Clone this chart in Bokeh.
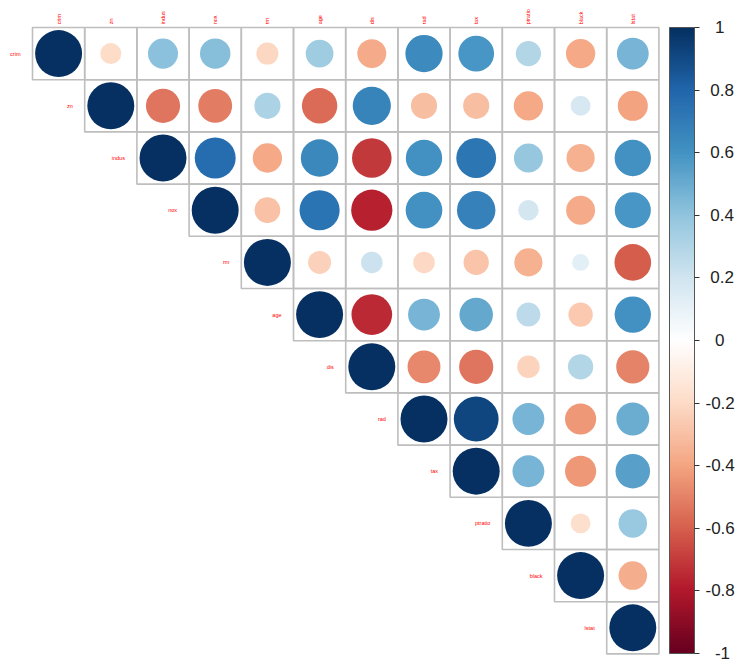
import numpy as np
from bokeh.plotting import figure
from bokeh.models import (ColumnDataSource, Range1d, LinearColorMapper, ColorBar,
                          FixedTicker, CustomJSTickFormatter)
from bokeh.transform import transform
from bokeh.core.properties import value
from bokeh.embed import file_html
from bokeh.resources import INLINE

variables = ["crim", "zn", "indus", "nox", "rm", "age", "dis", "rad", "tax",
             "ptratio", "black", "lstat"]

# upper-triangle correlations, each row starting at the diagonal
corr_crim = [1.00, -0.20, 0.41, 0.42, -0.22, 0.35, -0.38, 0.63, 0.58, 0.29, -0.39, 0.46]
corr_zn = [1.00, -0.53, -0.52, 0.31, -0.57, 0.66, -0.31, -0.31, -0.39, 0.18, -0.41]
corr_indus = [1.00, 0.76, -0.39, 0.64, -0.71, 0.60, 0.72, 0.38, -0.36, 0.60]
corr_nox = [1.00, -0.30, 0.73, -0.77, 0.61, 0.67, 0.19, -0.38, 0.59]
corr_rm = [1.00, -0.24, 0.21, -0.21, -0.29, -0.36, 0.13, -0.61]
corr_age = [1.00, -0.75, 0.46, 0.51, 0.26, -0.27, 0.60]
corr_dis = [1.00, -0.49, -0.53, -0.23, 0.29, -0.50]
corr_rad = [1.00, 0.91, 0.46, -0.44, 0.49]
corr_tax = [1.00, 0.46, -0.44, 0.54]
corr_ptratio = [1.00, -0.18, 0.37]
corr_black = [1.00, -0.37]
corr_lstat = [1.00]

rows = [corr_crim, corr_zn, corr_indus, corr_nox, corr_rm, corr_age, corr_dis,
        corr_rad, corr_tax, corr_ptratio, corr_black, corr_lstat]

colorbar_ticks = [-1, -0.8, -0.6, -0.4, -0.2, 0, 0.2, 0.4, 0.6, 0.8, 1]

# corrplot RdBu palette, 200 steps
anchors = ["#67001F", "#B2182B", "#D6604D", "#F4A582", "#FDDBC7", "#FFFFFF",
           "#D1E5F0", "#92C5DE", "#4393C3", "#2166AC", "#053061"]
rgb = np.array([[int(c[i:i + 2], 16) for i in (1, 3, 5)] for c in anchors], float)
pos = np.linspace(0, 1, len(anchors))
t = np.linspace(0, 1, 200)
palette = ["#%02x%02x%02x" % tuple(int(round(np.interp(v, pos, rgb[:, k]))) for k in range(3))
           for v in t]

n = len(variables)
xs, ys, rs, rad = [], [], [], []
for i, row in enumerate(rows):
    for k, r in enumerate(row):
        j = i + k
        xs.append(j + 0.5)
        ys.append(n - i - 0.5)
        rs.append(r)
        rad.append(0.45 * np.sqrt(abs(r)))
src = ColumnDataSource(dict(x=xs, y=ys, r=rs, rad=rad))

cell = 52.2
left_px, top_px = 32.0, 27.0
W, H = 740, 664
x_range = Range1d(-left_px / cell, (W - left_px) / cell)
y_range = Range1d(n - (H - top_px) / cell, n + top_px / cell)

p = figure(width=W, height=H, x_range=x_range, y_range=y_range,
           x_axis_type=None, y_axis_type=None, toolbar_location=None,
           output_backend="svg", min_border=0)
p.grid.visible = False
p.outline_line_color = None

p.rect(x="x", y="y", width=1, height=1, source=src, fill_color=None,
       line_color="#BEBEBE", line_width=1.6)

mapper = LinearColorMapper(palette=palette, low=-1, high=1)
p.circle(x="x", y="y", radius="rad", source=src,
         fill_color=transform("r", mapper), line_color=None)

# labels
lab_src_top = ColumnDataSource(dict(x=[j + 0.5 for j in range(n)], y=[n + 0.06] * n, t=variables))
p.text(x="x", y="y", text="t", source=lab_src_top, angle=np.pi / 2,
       text_align="left", text_baseline="middle", text_color="#FF0000",
       text_font=value("Liberation Sans"), text_font_size="5.5px")
lab_src_left = ColumnDataSource(dict(x=[i - 0.23 for i in range(n)],
                                     y=[n - i - 0.5 for i in range(n)], t=variables))
p.text(x="x", y="y", text="t", source=lab_src_left,
       text_align="right", text_baseline="middle", text_color="#FF0000",
       text_font=value("Liberation Sans"), text_font_size="5.5px")

fmt_code = """
const s = String(Math.round(tick*10)/10);
const w = {'.': 0.278, '-': 0.333};
let tw = 0;
for (const c of s) tw += (c in w) ? w[c] : 0.556;
const k = Math.max(0, Math.round((1.723 - tw) / 2 / 0.278));
return '\\u00a0'.repeat(k) + s;
"""

cb = ColorBar(color_mapper=mapper, ticker=FixedTicker(ticks=colorbar_ticks),
              formatter=CustomJSTickFormatter(code=fmt_code),
              width=25, height=626, location=(669, 11), padding=0, margin=0,
              background_fill_alpha=0, border_line_color=None,
              bar_line_color="#555555", major_tick_line_color="#333333",
              major_tick_in=0, major_tick_out=5, label_standoff=6,
              major_label_text_font_size="17px",
              major_label_text_font="Liberation Sans",
              major_label_text_color="#222222")
p.add_layout(cb, "center")

open("out.html", "w").write(file_html(p, INLINE))
